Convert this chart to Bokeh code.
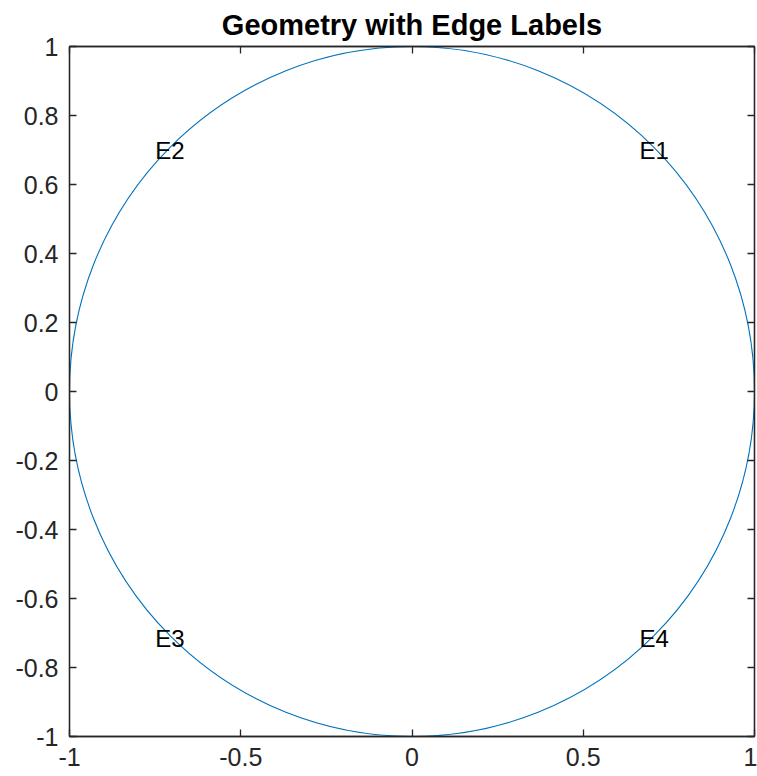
from bokeh.plotting import figure
from bokeh.models import Range1d, LinearAxis, FixedTicker, ColumnDataSource
from bokeh.core.properties import value
from bokeh.embed import file_html
from bokeh.resources import INLINE

# ---- data ----
circle_x = [0.0]
circle_y = [0.0]
circle_diameter = [2.0]
edge_labels = ["E1", "E2", "E3", "E4"]
edge_label_x = [0.7071, -0.7071, -0.7071, 0.7071]
edge_label_y = [0.7071, 0.7071, -0.7071, -0.7071]
x_ticks = [-1, -0.5, 0, 0.5, 1]
x_tick_labels = ["-1", "-0.5", "0", "0.5", "1"]
y_ticks = [-1, -0.8, -0.6, -0.4, -0.2, 0, 0.2, 0.4, 0.6, 0.8, 1]
y_tick_labels = ["-1", "-0.8", "-0.6", "-0.4", "-0.2", "0", "0.2", "0.4", "0.6", "0.8", "1"]
title_text = "Geometry with Edge Labels"

FONT = "Liberation Sans"
DARK = "#262626"

p = figure(width=757, height=776, output_backend="svg", toolbar_location=None,
           x_range=Range1d(-1, 1), y_range=Range1d(-1, 1),
           x_axis_location=None, y_axis_location=None,
           min_border_left=69, min_border_right=3, min_border_top=46, min_border_bottom=40,
           title=title_text)
p.grid.visible = False
p.background_fill_color = "white"
p.border_fill_color = "white"
p.outline_line_color = DARK
p.outline_line_width = 1.3

p.title.align = "center"
p.title.text_font = FONT
p.title.text_font_size = "29px"
p.title.text_font_style = "bold"
p.title.text_color = "black"
p.title.standoff = 11

def make_axis(ticks, labels, show_labels, standoff):
    ax = LinearAxis(ticker=FixedTicker(ticks=ticks))
    ax.axis_line_color = DARK
    ax.axis_line_width = 1.3
    ax.major_tick_line_color = DARK
    ax.major_tick_line_width = 1.3
    ax.major_tick_in = 7
    ax.major_tick_out = 0
    ax.minor_tick_line_color = None
    ax.major_label_text_font = FONT
    ax.major_label_text_color = DARK
    ax.major_label_text_font_size = "25px"
    if show_labels:
        ax.major_label_overrides = {t: l for t, l in zip(ticks, labels)}
        ax.major_label_standoff = standoff
    else:
        ax.major_label_overrides = {t: "" for t in ticks}
        ax.major_label_standoff = 0
    return ax

p.add_layout(make_axis(x_ticks, x_tick_labels, True, 11), "below")
p.add_layout(make_axis(y_ticks, y_tick_labels, True, 11), "left")
p.add_layout(make_axis(x_ticks, x_tick_labels, False, 0), "above")
p.add_layout(make_axis(y_ticks, y_tick_labels, False, 0), "right")

p.ellipse(x=circle_x, y=circle_y, width=circle_diameter, height=circle_diameter,
          fill_color=None, line_color="#0072BD", line_width=1.1)

src = ColumnDataSource(dict(x=edge_label_x, y=edge_label_y, t=edge_labels))
p.text(x="x", y="y", text="t", source=src, text_font=value(FONT),
       text_font_size="24px", text_color="black", text_align="center",
       text_baseline="middle", y_offset=3)

open("out.html", "w").write(file_html(p, INLINE))
